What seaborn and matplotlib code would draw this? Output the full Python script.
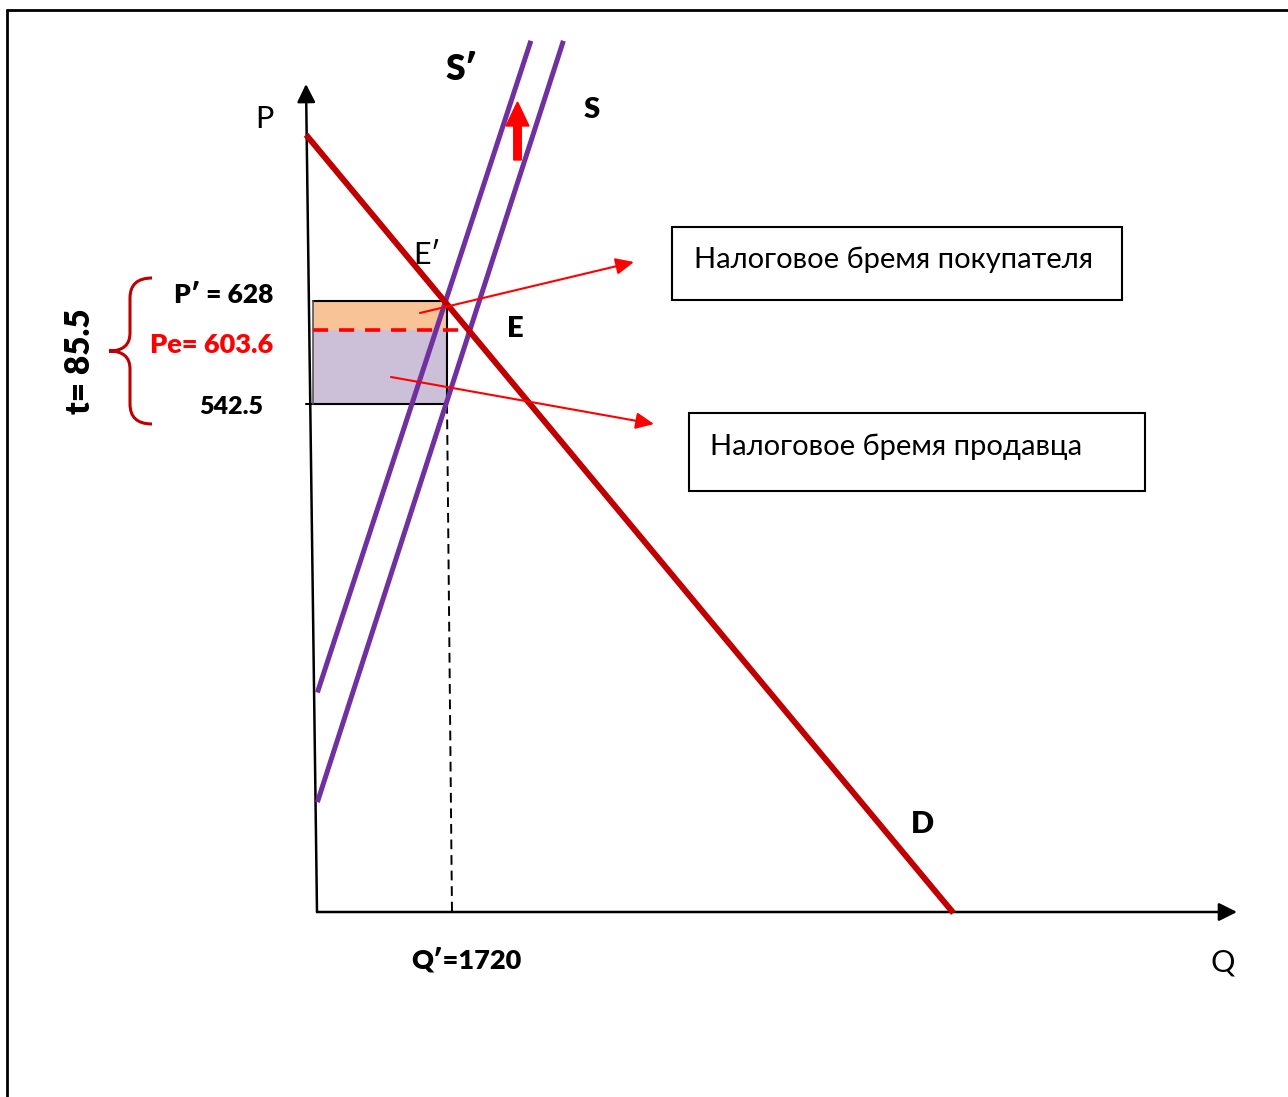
import matplotlib.pyplot as plt
import seaborn as sns
from matplotlib.patches import Rectangle, FancyArrow, PathPatch
from matplotlib.path import Path
from matplotlib.lines import Line2D
from matplotlib.transforms import IdentityTransform

sns.set_theme(style='white')
plt.rcParams['font.family'] = ['Lato', 'Open Sans', 'DejaVu Sans']

# значения с графика
p_buyer = 628      # P'
p_eq = 603.6       # Pe
p_seller = 542.5
tax = 85.5         # t
q_tax = 1720       # Q'

# концы линий (Q, P)
demand_q = [-145, 8420]
demand_p = [766, 120]
supply_q = [5, 3260]
supply_p = [212, 844]
supply_tax_q = [5, 2830]
supply_tax_p = [303, 844]

# размер картинки и масштаб (пиксели <-> единицы графика)
W, H = 1288, 1097
X0, Q_PX = 317, q_tax / 130
Y0, P_PX = 404, tax / 103


def q_of(x):
    return (x - X0) * Q_PX


def p_of(y):
    return p_seller - (y - Y0) * P_PX


def fx(x, y):
    # пиксели (от верхнего левого угла) -> доли фигуры
    return x / W, 1 - y / H


fig = plt.figure(figsize=(W / 100, H / 100), dpi=100)
ax = fig.add_axes([0, 0, 1, 1])
ax.set_xlim(q_of(0), q_of(W))
ax.set_ylim(p_of(H), p_of(0))
ax.axis('off')

# рамка
fig.add_artist(Line2D([7 / W, 1], [1 - 10 / H, 1 - 10 / H], transform=fig.transFigure, color='black', lw=2))
fig.add_artist(Line2D([7 / W, 7 / W], [0, 1 - 10 / H], transform=fig.transFigure, color='black', lw=2))

# налоговое бремя
q_left = q_of(313)
ax.add_patch(Rectangle((q_left, p_eq), q_tax - q_left, p_buyer - p_eq, facecolor='#F8C396', edgecolor='none', zorder=1))
ax.add_patch(Rectangle((q_left, p_seller), q_tax - q_left, p_eq - p_seller, facecolor='#CBC0D8', edgecolor='none', zorder=1))
ax.plot([q_left, q_tax, q_tax], [p_buyer, p_buyer, p_seller], color='black', lw=1.5, zorder=2)
ax.plot([q_of(306), q_tax], [p_seller, p_seller], color='black', lw=1.5, zorder=2)
ax.plot([q_left, q_left], [p_seller, p_buyer], color='#555555', lw=1.2, zorder=2)

# оси
p0 = p_of(912)
ax.annotate('', xy=(q_of(1237), p0), xytext=(0, p0),
            arrowprops=dict(arrowstyle='-|>,head_length=1.1,head_width=0.55', color='black', lw=1.8,
                            shrinkA=0, shrinkB=0, mutation_scale=10))
ax.annotate('', xy=(q_of(306), p_of(84)), xytext=(0, p0),
            arrowprops=dict(arrowstyle='-|>,head_length=1.1,head_width=0.55', color='black', lw=1.8,
                            shrinkA=0, shrinkB=0, mutation_scale=10))

# пунктир Q'
ax.plot([q_tax, q_tax + 5 * Q_PX], [p_seller, p0], color='black', lw=1.4, dashes=(5, 3), zorder=2)

# кривые спроса и предложения
sns.lineplot(x=supply_tax_q, y=supply_tax_p, ax=ax, color='#7030A0', linewidth=3.6, sort=False,
             solid_capstyle='butt', zorder=3)
sns.lineplot(x=supply_q, y=supply_p, ax=ax, color='#7030A0', linewidth=3.6, sort=False,
             solid_capstyle='butt', zorder=3)
sns.lineplot(x=demand_q, y=demand_p, ax=ax, color='#C00000', linewidth=4.3, sort=False,
             solid_capstyle='butt', zorder=4)

# Pe до кривой S
q_e = supply_q[0] + (p_eq - supply_p[0]) * (supply_q[1] - supply_q[0]) / (supply_p[1] - supply_p[0])
ax.plot([q_left, q_e], [p_eq, p_eq], color='red', lw=2.6, dashes=(4.2, 3), zorder=3.5)

# стрелки к подписям
ax.annotate('', xy=(q_of(634), p_of(262)), xytext=(q_of(420), p_of(313)),
            arrowprops=dict(arrowstyle='-|>,head_length=1.1,head_width=0.5', color='red', lw=1.5,
                            shrinkA=0, shrinkB=0, mutation_scale=10), zorder=5)
ax.annotate('', xy=(q_of(654), p_of(424)), xytext=(q_of(391), p_of(377)),
            arrowprops=dict(arrowstyle='-|>,head_length=1.1,head_width=0.5', color='red', lw=1.5,
                            shrinkA=0, shrinkB=0, mutation_scale=10), zorder=5)

# сдвиг предложения вверх
fig.add_artist(FancyArrow(517.5, H - 160, 0, 58, width=7.5, head_width=23, head_length=24,
                          length_includes_head=True, color='red', transform=IdentityTransform()))

# фигурная скобка
bx, bt, bm, bb, tip, end = 130, 278, 351, 424, 109, 152
verts = [(end, bt), (bx, bt), (bx, bt + 20), (bx, bm - 18), (bx, bm), (tip, bm),
         (bx, bm), (bx, bm + 18), (bx, bb - 20), (bx, bb), (end, bb)]
codes = [Path.MOVETO, Path.CURVE3, Path.CURVE3, Path.LINETO, Path.CURVE3, Path.CURVE3,
         Path.CURVE3, Path.CURVE3, Path.LINETO, Path.CURVE3, Path.CURVE3]
verts = [(x, H - y) for x, y in verts]
fig.add_artist(PathPatch(Path(verts, codes), fill=False, ec='#C00000', lw=2.2, transform=IdentityTransform()))

# подписи
def label(x, y, s, size, bold=False, color='black', ha='center', **kw):
    fig.text(*fx(x, y), s, fontsize=size, fontweight='heavy' if bold else 'normal',
             color=color, ha=ha, va='baseline', **kw)


label(264, 128, 'P', 22)
label(461, 80, 'S′', 25.5, bold=True)
label(592, 118, 'S', 21, bold=True)
label(427, 264, 'E′', 22)
label(515, 337, 'E', 21, bold=True)
label(922, 833, 'D', 22, bold=True)
label(1223, 972, 'Q', 22)
label(466, 968, f'Q′={q_tax}', 19.5, bold=True)
label(273, 303, f'P′ = {p_buyer}', 19, bold=True, ha='right')
label(273, 353, f'Pe= {p_eq}', 19.5, bold=True, ha='right', color='red')
label(263, 414, f'{p_seller}', 18, bold=True, ha='right')
fig.text(*fx(80, 361), f't= {tax}', fontsize=24, fontweight='heavy', color='black',
         rotation=90, ha='center', va='center')

# рамки с текстом
for (x1, y1, x2, y2), tx, ty, s in [((672, 227, 1122, 300), 694, 268, 'Налоговое бремя покупателя'),
                                    ((689, 413, 1145, 491), 710, 455, 'Налоговое бремя продавца')]:
    fig.add_artist(Rectangle(fx(x1, y2), (x2 - x1) / W, (y2 - y1) / H, transform=fig.transFigure,
                             fill=False, ec='black', lw=1.5))
    label(tx, ty, s, 21, ha='left')

fig.savefig('out.png', dpi=100)
